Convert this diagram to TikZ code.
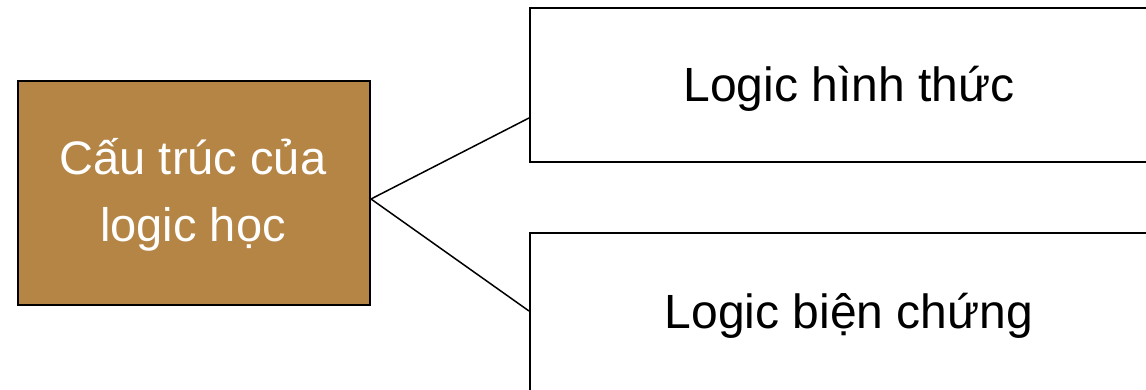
\documentclass[tikz,border=0pt]{standalone}
\usepackage{fontspec}
\setmainfont{Liberation Sans}
\begin{document}
\begin{tikzpicture}[x=1pt,y=-1pt,
  box/.style={draw=black,line width=2pt,rectangle,inner sep=0pt,anchor=north west},
  rootlabel/.style={font=\fontsize{47}{68}\selectfont,inner sep=0pt,anchor=base,text=white},
  leaflabel/.style={font=\fontsize{48}{60}\selectfont,inner sep=0pt,anchor=base},
  link/.style={draw=black,line width=1.5pt}]
\useasboundingbox (0,0) rectangle (1146,390);
\clip (0,0) rectangle (1146,390);
% root box
\node[box,fill={rgb,255:red,181;green,133;blue,70},minimum width=352pt,minimum height=224pt] (root) at (17,80) {};
\node[rootlabel] (rt1) at (193,175) {Cấu trúc của};
\node[rootlabel] (rt2) at (193,241) {logic học};
% branch boxes
\node[box,fill=white,minimum width=660pt,minimum height=154pt] (b1) at (529,7) {};
\node[leaflabel] (t1) at (849,102) {Logic hình thức};
\node[box,fill=white,minimum width=660pt,minimum height=190pt] (b2) at (529,232) {};
\node[leaflabel] (t2) at (849,328) {Logic biện chứng};
% connectors
\coordinate (r) at (root.east |- 0,199);
\coordinate (e1) at (b1.west |- 0,118);
\coordinate (e2) at (b2.west |- 0,311);
\draw[link] (r) -- (e1);
\draw[link] (r) -- (e2);
\end{tikzpicture}
\end{document}
